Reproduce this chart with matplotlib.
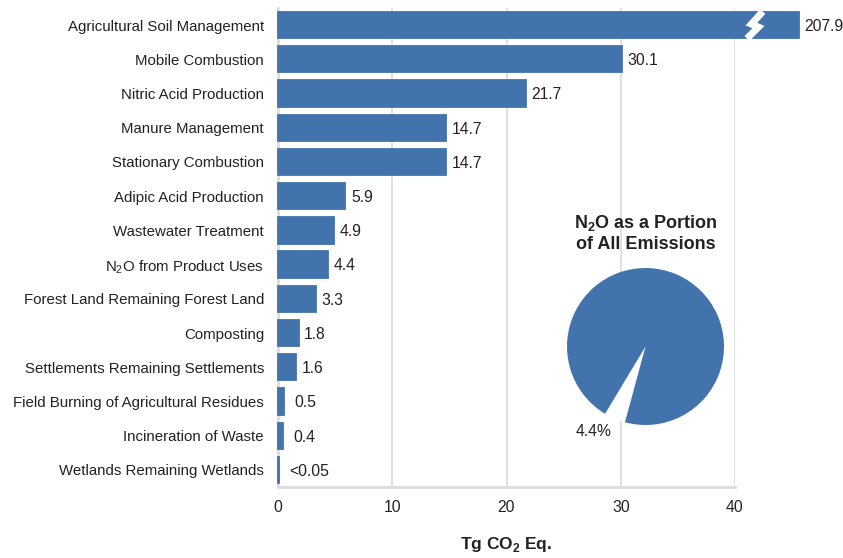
import matplotlib
matplotlib.use("Agg")
import matplotlib.pyplot as plt
from matplotlib import font_manager as fm
import numpy as np

categories = [
    "Agricultural Soil Management", "Mobile Combustion", "Nitric Acid Production",
    "Manure Management", "Stationary Combustion", "Adipic Acid Production",
    "Wastewater Treatment", r"N$_\mathregular{2}$O from Product Uses",
    "Forest Land Remaining Forest Land", "Composting",
    "Settlements Remaining Settlements", "Field Burning of Agricultural Residues",
    "Incineration of Waste", "Wetlands Remaining Wetlands",
]
values = [207.9, 30.1, 21.7, 14.7, 14.7, 5.9, 4.9, 4.4, 3.3, 1.8, 1.6, 0.5, 0.4, 0.05]
value_labels = ["207.9", "30.1", "21.7", "14.7", "14.7", "5.9", "4.9", "4.4",
                "3.3", "1.8", "1.6", "0.5", "0.4", "<0.05"]
pie_values = [4.4, 95.6]
pie_label = "4.4%"
xticks = [0, 10, 20, 30, 40]

names = {f.name for f in fm.fontManager.ttflist}
fam = "Liberation Sans Narrow" if "Liberation Sans Narrow" in names else "Liberation Sans"
plt.rcParams["font.family"] = [fam, "DejaVu Sans"]
plt.rcParams["mathtext.fontset"] = "custom"
plt.rcParams["mathtext.rm"] = fam
plt.rcParams["mathtext.bf"] = fam + ":bold"

BLUE = "#4273ad"
GRID = "#dcdcdc"
TXT = "#222222"
BREAK_AT = 45.6
FS = 10.8

fig = plt.figure(figsize=(8.43, 5.58), dpi=100)
ax = fig.add_axes([278/843, 1-487/558, (735-278)/843, (487-8)/558])

y = np.arange(len(categories))
disp = [min(v, BREAK_AT) for v in values]
ax.barh(y, disp, height=0.77, color=BLUE, edgecolor=BLUE, linewidth=1.3,
        clip_on=False, zorder=3)
ax.set_ylim(len(categories) - 0.5, -0.5)
ax.set_xlim(0, 40)
ax.set_yticks(y)
ax.set_yticklabels(categories, fontsize=FS, color=TXT)
ax.set_xticks(xticks)
ax.set_xticklabels([str(t) for t in xticks], fontsize=FS + 0.5, color=TXT)
ax.tick_params(length=0, pad=9)
ax.tick_params(axis="y", pad=10)
ax.xaxis.grid(True, color=GRID, linewidth=1.2, zorder=0)
ax.set_axisbelow(True)
for s in ["top", "right"]:
    ax.spines[s].set_visible(False)
for s in ["left", "bottom"]:
    ax.spines[s].set_color(GRID)
    ax.spines[s].set_linewidth(2)
    ax.spines[s].set_zorder(2)

for yi, d, lab in zip(y, disp, value_labels):
    ax.annotate(lab, (d, yi), xytext=(4 if d > 1 else 8, -1), textcoords="offset points",
                va="center", ha="left", fontsize=FS + 0.5, color=TXT, annotation_clip=False)

# break marker on the first bar
bx = 41.7
pts_px = np.array([[6, -11], [-3, -1], [4, 2], [-5, 11]])
x0, y0 = ax.transData.transform((bx, 0))
xy = np.column_stack([x0 + pts_px[:, 0], y0 - pts_px[:, 1]])
xy_data = ax.transData.inverted().transform(xy)
ax.plot(xy_data[:, 0], xy_data[:, 1], color="white", linewidth=5, zorder=5,
        solid_joinstyle="miter", clip_on=False)

ax.set_xlabel(r"Tg CO$_\mathregular{2}$ Eq.", fontsize=12.5, fontweight="bold",
              color=TXT, labelpad=15)

# pie inset
pax = fig.add_axes([567/843, 1-425/558, 157/843, 157/558])
pax.pie(pie_values, colors=["white", BLUE], startangle=239, counterclock=True,
        radius=1, wedgeprops=dict(linewidth=0))
pax.set_xlim(-1, 1)
pax.set_ylim(-1, 1)
pax.set_aspect("equal")
pax.axis("off")
fig.text(594/843, 1-432/558, pie_label, ha="center", va="center", fontsize=FS + 0.5, color=TXT)
fig.text(646/843, 1-233/558, "N$_\\mathregular{2}$O as a Portion\nof All Emissions",
         ha="center", va="center", fontsize=13, fontweight="bold", color=TXT,
         linespacing=1.25)

fig.savefig("out.png", dpi=100)
